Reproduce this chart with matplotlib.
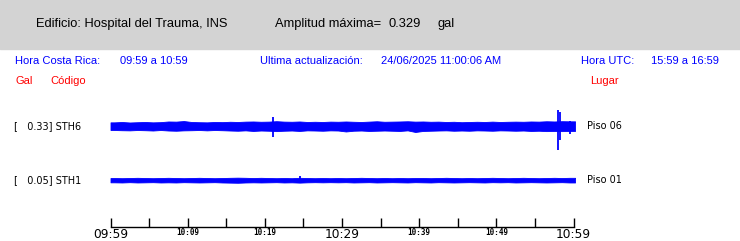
import numpy as np
import matplotlib
matplotlib.use("Agg")
import matplotlib.pyplot as plt
from matplotlib.patches import Rectangle

# header info
edificio = "Edificio: Hospital del Trauma, INS"
amp_max = 0.329
hora_cr = "09:59 a 10:59"
hora_utc = "15:59 a 16:59"
actualizacion = "24/06/2025 11:00:06 AM"

# stations (top to bottom)
codigos = ["STH6", "STH1"]
lugares = ["Piso 06", "Piso 01"]
maximos = [0.33, 0.05]

# per-minute envelope of each trace (gal)
sth6_up = [0.050, 0.055, 0.048, 0.052, 0.055, 0.050, 0.053, 0.062, 0.060, 0.068,
           0.055, 0.052, 0.050, 0.055, 0.053, 0.058, 0.055, 0.060, 0.062, 0.058,
           0.060, 0.066, 0.060, 0.058, 0.062, 0.055, 0.058, 0.055, 0.060, 0.058,
           0.062, 0.058, 0.055, 0.060, 0.065, 0.058, 0.060, 0.062, 0.065, 0.060,
           0.062, 0.058, 0.060, 0.055, 0.058, 0.052, 0.055, 0.058, 0.055, 0.060,
           0.055, 0.058, 0.060, 0.058, 0.062, 0.060, 0.065, 0.062, 0.066, 0.064]
sth6_lo = [0.055, 0.058, 0.060, 0.055, 0.058, 0.062, 0.055, 0.062, 0.065, 0.060,
           0.058, 0.055, 0.060, 0.055, 0.058, 0.062, 0.065, 0.060, 0.068, 0.062,
           0.065, 0.070, 0.065, 0.062, 0.068, 0.060, 0.062, 0.065, 0.060, 0.062,
           0.075, 0.065, 0.062, 0.068, 0.065, 0.062, 0.065, 0.068, 0.060, 0.082,
           0.068, 0.065, 0.062, 0.060, 0.065, 0.062, 0.065, 0.060, 0.062, 0.065,
           0.060, 0.062, 0.065, 0.062, 0.068, 0.065, 0.070, 0.068, 0.070, 0.068]
sth1_up = [0.027, 0.025, 0.027, 0.030, 0.027, 0.025, 0.027, 0.030, 0.027, 0.025,
           0.027, 0.030, 0.027, 0.025, 0.027, 0.030, 0.032, 0.030, 0.027, 0.030,
           0.027, 0.025, 0.027, 0.025, 0.030, 0.027, 0.025, 0.027, 0.025, 0.027,
           0.025, 0.027, 0.030, 0.027, 0.025, 0.027, 0.025, 0.027, 0.025, 0.027,
           0.027, 0.025, 0.027, 0.030, 0.027, 0.025, 0.027, 0.025, 0.027, 0.030,
           0.027, 0.025, 0.027, 0.030, 0.027, 0.025, 0.027, 0.030, 0.027, 0.030]
sth1_lo = [0.032, 0.034, 0.030, 0.034, 0.032, 0.030, 0.034, 0.032, 0.034, 0.030,
           0.032, 0.034, 0.032, 0.030, 0.034, 0.036, 0.038, 0.034, 0.032, 0.034,
           0.032, 0.030, 0.034, 0.032, 0.036, 0.032, 0.030, 0.032, 0.030, 0.032,
           0.030, 0.034, 0.032, 0.030, 0.034, 0.032, 0.030, 0.032, 0.034, 0.030,
           0.032, 0.034, 0.030, 0.032, 0.034, 0.032, 0.030, 0.032, 0.034, 0.030,
           0.032, 0.030, 0.034, 0.032, 0.030, 0.032, 0.034, 0.032, 0.030, 0.034]

# isolated spikes: minute, peak up, peak down (gal)
sth6_spk_t = [21.1, 58.0, 58.3, 59.6]
sth6_spk_up = [0.123, 0.219, 0.190, 0.070]
sth6_spk_lo = [0.150, 0.329, 0.190, 0.110]
sth1_spk_t = [24.5]
sth1_spk_up = [0.050]
sth1_spk_lo = [0.040]

tick_labels = ["09:59", "10:09", "10:19", "10:29", "10:39", "10:49", "10:59"]

W, H = 740, 241
gain = 73.0          # px per gal
centros = [126, 180]  # trace rows (px)
azul = "#0000ff"
rojo = "#ff0000"


def fx(x):
    return x / W


def fy(y):
    return 1 - y / H


fig = plt.figure(figsize=(W / 100, H / 100), dpi=100)
fig.patches.append(Rectangle((0, fy(49)), 1, 49 / H, transform=fig.transFigure,
                             color="#d3d3d3", zorder=0))

sans = ["Liberation Sans", "DejaVu Sans"]
hsize = 9.3

fig.text(fx(36), fy(24), edificio, family=sans, fontsize=hsize, va="center")
fig.text(fx(275), fy(24), "Amplitud máxima=", family=sans, fontsize=hsize, va="center")
fig.text(fx(389), fy(24), f"{amp_max:.3f}", family=sans, fontsize=hsize, va="center")
fig.text(fx(438), fy(24), "gal", family=sans, fontsize=hsize, va="center")

fig.text(fx(15), fy(61), "Hora Costa Rica:", family=sans, fontsize=8, color=azul, va="center")
fig.text(fx(120), fy(61), hora_cr, family=sans, fontsize=8, color=azul, va="center")
fig.text(fx(260), fy(61), "Ultima actualización:", family=sans, fontsize=8, color=azul, va="center")
fig.text(fx(381), fy(61), actualizacion, family=sans, fontsize=8, color=azul, va="center")
fig.text(fx(581), fy(61), "Hora UTC:", family=sans, fontsize=8, color=azul, va="center")
fig.text(fx(651), fy(61), hora_utc, family=sans, fontsize=8, color=azul, va="center")

fig.text(fx(15), fy(81), "Gal", family=sans, fontsize=8, color=rojo, va="center")
fig.text(fx(50), fy(81), "Código", family=sans, fontsize=8, color=rojo, va="center")
fig.text(fx(590), fy(81), "Lugar", family=sans, fontsize=8, color=rojo, va="center")

ax = fig.add_axes([fx(110.5), fy(227), (573.5 - 110.5) / W, (227 - 100) / H])
ax.set_xlim(0, 60)
ax.set_ylim(227, 100)
ax.patch.set_alpha(0)
for s in ["top", "left", "right"]:
    ax.spines[s].set_visible(False)
ax.spines["bottom"].set_linewidth(1.0)
ax.set_yticks([])

trazas = [(sth6_up, sth6_lo, sth6_spk_t, sth6_spk_up, sth6_spk_lo),
          (sth1_up, sth1_lo, sth1_spk_t, sth1_spk_up, sth1_spk_lo)]
for c, (up, lo, st, su, sl), cod, lug, mx in zip(centros, trazas, codigos, lugares, maximos):
    # envelope value of each minute sits at the middle of that minute
    t = np.r_[0, np.arange(len(up)) + 0.5, len(up) + 0.2]
    up = np.r_[up[0], up, up[-1]]
    lo = np.r_[lo[0], lo, lo[-1]]
    ax.fill_between(t, c - gain * up, c + gain * lo, color=azul, lw=0.6,
                    edgecolor=azul, clip_on=False)
    ax.vlines(st, c - gain * np.array(su), c + gain * np.array(sl), color=azul,
              lw=1.3, clip_on=False)
    fig.text(fx(14), fy(c), f"[   {mx:.2f}] {cod}", fontsize=7, va="center")
    fig.text(fx(587), fy(c), lug, fontsize=7, va="center")

ax.set_xticks(np.arange(0, 61, 5))
labels = []
for i in range(13):
    labels.append(tick_labels[i // 2] if i % 2 == 0 else "")
ax.set_xticklabels(labels)
ax.tick_params(axis="x", direction="in", length=6.5, width=1.0, pad=0.5)
for i, lab in enumerate(ax.get_xticklabels()):
    if i in (0, 6, 12):
        lab.set_fontsize(8.8)
    else:
        lab.set_fontsize(5.5)
        lab.set_family("DejaVu Sans Mono")
        lab.set_fontweight("bold")

fig.savefig("out.png", dpi=100)
